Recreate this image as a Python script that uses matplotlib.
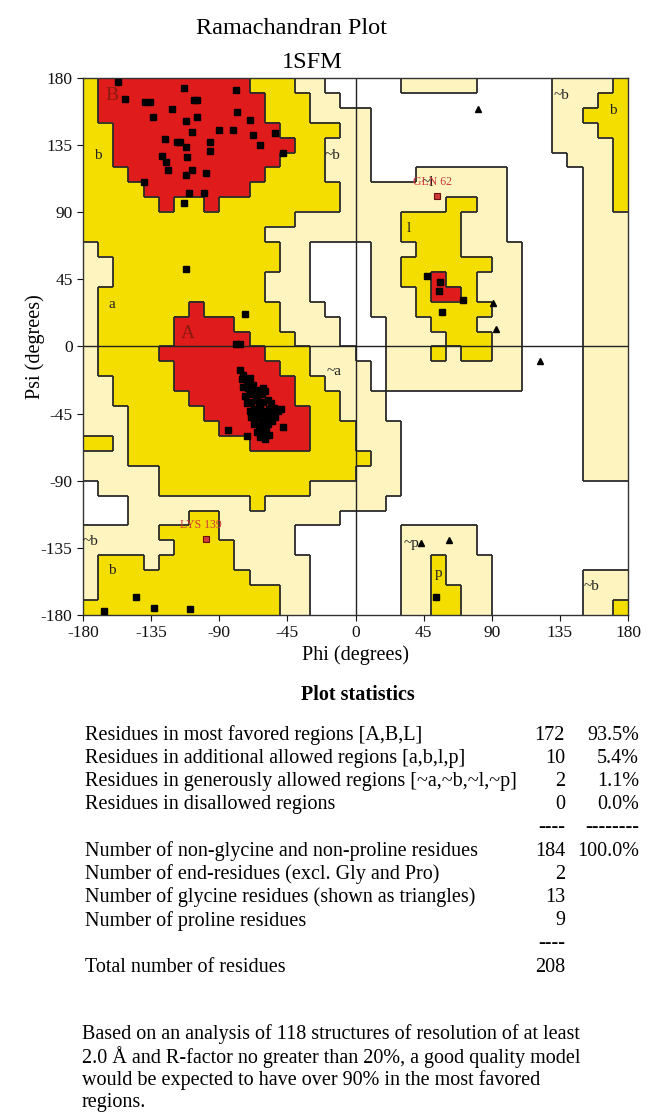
import numpy as np
import matplotlib
matplotlib.use('Agg')
import matplotlib.pyplot as plt
from matplotlib.colors import ListedColormap
from matplotlib.collections import LineCollection

plt.rcParams['font.family'] = ['Liberation Serif', 'DejaVu Serif']
plt.rcParams['axes.unicode_minus'] = False

# region map in 10 degree cells, run-length coded
# first row is psi 170..180, first cell of a row is phi -180..-170
# W = disallowed, L = generously allowed, Y = additional allowed, R = most favoured
region_rows = [
    "Y1 R10 Y3 L2 W5 L5 W5 L4 Y1",
    "Y1 R11 Y3 L2 W14 L3 Y2",
    "Y1 R11 Y3 L4 W12 L2 Y3",
    "Y2 R11 Y4 L2 W12 L3 Y2",
    "Y2 R12 Y2 L3 W12 L4 Y1",
    "Y2 R11 Y3 L3 W13 L3 Y1",
    "Y3 R9 Y4 L3 W3 L6 W5 L2 Y1",
    "Y4 R7 Y6 L11 W5 L2 Y1",
    "Y5 R1 Y2 R1 Y8 L7 Y2 L2 W5 L2 Y1",
    "Y14 L7 Y4 L3 W5 L3",
    "Y12 L9 Y4 L3 W5 L3",
    "L1 Y12 L2 W4 L3 Y3 L4 W4 L3",
    "L2 Y11 L2 W4 L2 Y6 L2 W4 L3",
    "L2 Y10 L3 W4 L2 Y2 R1 Y2 L3 W4 L3",
    "L1 Y11 L3 W4 L3 Y1 R2 Y1 L3 W4 L3",
    "L1 Y6 R1 Y5 L3 W3 L3 Y5 L2 W4 L3",
    "L1 Y5 R4 Y3 L4 W3 L3 Y3 L3 W4 L3",
    "L1 Y5 R5 Y3 L3 W3 L4 Y3 L2 W4 L3",
    "L1 Y4 R7 Y3 L3 W2 L3 Y1 L1 Y2 L2 W4 L3",
    "L1 Y5 R7 Y2 L4 W1 L9 W4 L3",
    "L2 Y4 R8 Y2 L3 W1 L9 W4 L3",
    "L2 Y5 R7 Y3 L3 W13 L3",
    "L3 Y5 R7 Y2 L3 W13 L3",
    "L3 Y6 R6 Y3 L3 W12 L3",
    "Y2 L1 Y8 R4 Y3 L3 W12 L3",
    "L3 Y16 L2 W12 L3",
    "L5 Y13 L3 W12 L3",
    "W1 L4 Y10 L6 W15",
    "W3 L8 Y1 L8 W16",
    "W3 L4 Y2 L8 W19",
    "L5 Y4 L5 W7 L5 W10",
    "L6 Y4 L4 W7 L5 W10",
    "L1 Y3 L1 Y5 L5 W6 L2 Y1 L3 W9",
    "L1 Y10 L4 W6 L2 Y1 L3 W6 L3",
    "L1 Y12 L2 W6 L2 Y2 L2 W6 L3",
    "Y13 L2 W6 L2 Y2 L2 W6 L2 Y1",
]

# residues (non-glycine) shown as squares
res_phi = [-157, -152, -139, -136, -113, -107, -105, -79, -121, -134, -112, -105,
           -78, -70, -108, -90, -81, -68, -63, -126, -118, -116, -112, -96, -96,
           -128, -125, -111, -124, -108, -112, -99, -140, -110, -100, -113, -53, -48,
           -112, -73, -79, -76, -84, -72, -48, -145, -133, -109, -166, 53,
           47, 56, 55, 71, 57]
res_psi = [177, 166, 164, 164, 173, 165, 165, 172, 159, 154, 151, 154,
           157, 152, 144, 145, 145, 142, 135, 139, 137, 137, 134, 137, 131,
           128, 124, 127, 118, 118, 115, 116, 110, 103, 103, 96, 143, 130,
           52, 22, 2, 2, -56, -60, -54, -168, -175, -176, -177, -168,
           47, 43, 37, 31, 23]

# the dense right-handed helix cluster
helix_phi = [-76, -74, -75, -72, -70, -74, -71, -68, -66, -73, -70, -67, -65, -62, -60,
             -72, -69, -66, -64, -61, -58, -56, -61, -70, -67, -65, -63, -60, -57, -54,
             -51, -49, -69, -66, -64, -62, -59, -56, -53, -67, -64, -61, -58, -55,
             -65, -62, -59, -57, -63, -60]
helix_psi = [-16, -19, -22, -23, -21, -27, -28, -26, -29, -33, -32, -31, -34, -32, -30,
             -38, -37, -36, -39, -37, -36, -38, -28, -43, -42, -44, -41, -43, -42, -41,
             -43, -42, -47, -48, -46, -49, -47, -46, -47, -52, -53, -51, -52, -50,
             -57, -58, -56, -59, -61, -62]

# glycines shown as triangles
gly_phi = [81, 91, 93, 122, 43, 62]
gly_psi = [159, 29, 12, -10, -132, -130]

# residues named on the plot
named_res = ["GLN 62", "LYS 139"]
named_phi = [54, -99]
named_psi = [101, -129]

# region labels
reg_text = ["B", "b", "A", "a", "~b", "~a", "l", "~l", "~b", "b",
            "~b", "b", "~p", "p", "~b"]
reg_phi = [-161, -170, -111, -161, -15, -14, 35, 48, 136, 170,
           -175, -161, 37, 55, 156]
reg_psi = [168, 128, 9, 28, 128, -17, 79, 110, 168, 158,
           -131, -150, -132, -152, -161]
reg_big = ["B", "A"]

stat_labels = ["Residues in most favored regions [A,B,L]",
               "Residues in additional allowed regions [a,b,l,p]",
               "Residues in generously allowed regions [~a,~b,~l,~p]",
               "Residues in disallowed regions",
               "",
               "Number of non-glycine and non-proline residues",
               "Number of end-residues (excl. Gly and Pro)",
               "Number of glycine residues (shown as triangles)",
               "Number of proline residues",
               "",
               "Total number of residues"]
stat_counts = ["172", "10", "2", "0", "----", "184", "2", "13", "9", "----", "208"]
stat_pcts = ["93.5%", "5.4%", "1.1%", "0.0%", "--------", "100.0%", "", "", "", "", ""]

note_lines = ["Based on an analysis of 118 structures of resolution of at least",
              "2.0 \u00c5 and R-factor no greater than 20%, a good quality model",
              "would be expected to have over 90% in the most favored",
              "regions."]

# decode region map
code = {'W': 0, 'L': 1, 'Y': 2, 'R': 3}
grid = []
for row in region_rows:
    cells = []
    for tok in row.split():
        cells += [code[tok[0]]] * int(tok[1:])
    grid.append(cells)
grid = np.array(grid)

W, H = 648, 1113
fig = plt.figure(figsize=(W / 100, H / 100), dpi=100)
fig.patch.set_facecolor('white')

def px(x, y):
    return x / W, 1 - y / H

ax = fig.add_axes([83 / W, 1 - 615 / H, 545 / W, 537 / H])
cmap = ListedColormap(['#ffffff', '#fdf4bf', '#f3de00', '#e01b1b'])
ax.imshow(grid, cmap=cmap, vmin=-0.5, vmax=3.5, extent=(-180, 180, -180, 180),
          origin='upper', interpolation='nearest', aspect='auto', zorder=0)

# outlines between regions
segs = []
n = grid.shape[0]
for r in range(n):
    for c in range(n):
        top = 180 - 10 * r
        left = -180 + 10 * c
        if c < n - 1 and grid[r, c] != grid[r, c + 1]:
            segs.append([(left + 10, top - 10), (left + 10, top)])
        if r < n - 1 and grid[r, c] != grid[r + 1, c]:
            segs.append([(left, top - 10), (left + 10, top - 10)])
ax.add_collection(LineCollection(segs, colors='#2a2a2a', linewidths=1.3, zorder=1))

ax.axhline(0, color='#222222', lw=1.0, zorder=2)
ax.axvline(0, color='#222222', lw=1.0, zorder=2)

for t, x, y in zip(reg_text, reg_phi, reg_psi):
    big = t in reg_big
    ax.text(x, y, t, fontsize=14 if big else 11, color='#8a1a10' if big else '#222222',
            ha='center', va='center', zorder=3)

ax.plot(res_phi, res_psi, 's', color='black', ms=4.3, zorder=4)
ax.plot(helix_phi, helix_psi, 's', color='black', ms=4.3, zorder=4)
ax.plot(gly_phi, gly_psi, '^', color='black', ms=4.5, zorder=4)

for t, x, y in zip(named_res, named_phi, named_psi):
    ax.plot(x, y, 's', mfc='#d03a3a', mec='#6a1010', mew=0.8, ms=4, zorder=5)
    ax.text(x - 3, y + 5, t, fontsize=8.5, color='#d03a3a', ha='center', va='bottom', zorder=5)

ax.set_xlim(-180, 180)
ax.set_ylim(-180, 180)
ticks = [-180, -135, -90, -45, 0, 45, 90, 135, 180]
ax.set_xticks(ticks)
ax.set_yticks(ticks)
ax.tick_params(direction='out', length=4, width=0.8, labelsize=12.5, colors='#111111')
for s in ax.spines.values():
    s.set_color('#333333')
    s.set_linewidth(1.0)
ax.set_xlabel('Phi (degrees)', fontsize=14.5, labelpad=3)
ax.set_ylabel('Psi (degrees)', fontsize=14.5)
ax.yaxis.set_label_coords(-38 / 545, 0.5)

fig.text(*px(292, 28), 'Ramachandran Plot', fontsize=17.5, ha='center', va='center')
fig.text(*px(312, 62), '1SFM', fontsize=17.5, ha='center', va='center')

fig.text(*px(358, 695), 'Plot statistics', fontsize=14.5, fontweight='bold',
         ha='center', va='center')
for i, (lab, cnt, pct) in enumerate(zip(stat_labels, stat_counts, stat_pcts)):
    y = 735 + 23.2 * i
    fig.text(*px(85, y), lab, fontsize=14.5, ha='left', va='center')
    fig.text(*px(565, y), cnt, fontsize=14.5, ha='right', va='center')
    fig.text(*px(639, y), pct, fontsize=14.5, ha='right', va='center')

for i, line in enumerate(note_lines):
    fig.text(*px(82, 1034 + 23 * i), line, fontsize=14.5, ha='left', va='center')

fig.savefig('out.png', dpi=100)
